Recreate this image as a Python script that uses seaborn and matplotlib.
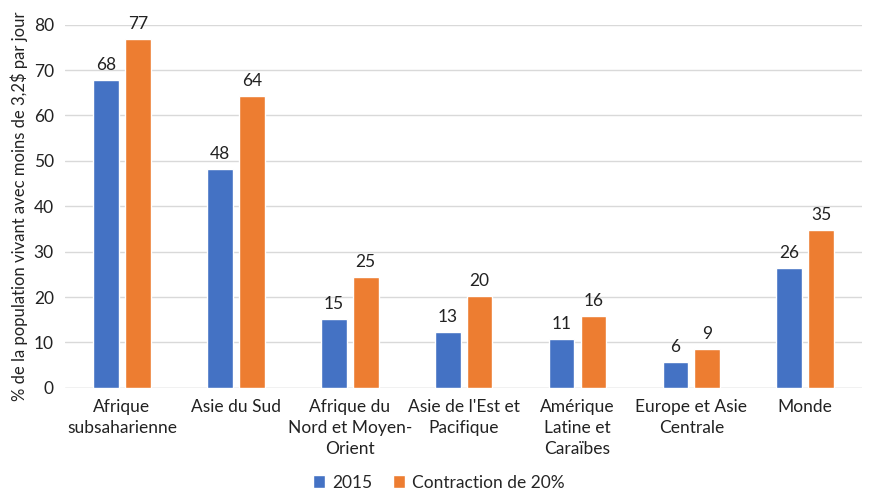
import seaborn as sns
import matplotlib.pyplot as plt
import pandas as pd

regions = ["Afrique\nsubsaharienne", "Asie du Sud", "Afrique du\nNord et Moyen-\nOrient",
           "Asie de l'Est et\nPacifique", "Amérique\nLatine et\nCaraïbes",
           "Europe et Asie\nCentrale", "Monde"]
val_2015 = [67.8, 48.3, 15.1, 12.4, 10.7, 5.7, 26.4]
val_contraction = [76.8, 64.4, 24.5, 20.3, 15.8, 8.5, 34.7]
lab_2015 = ["68", "48", "15", "13", "11", "6", "26"]
lab_contraction = ["77", "64", "25", "20", "16", "9", "35"]
series = ["2015", "Contraction de 20%"]

df = pd.DataFrame({
    "region": regions * 2,
    "serie": [series[0]] * len(regions) + [series[1]] * len(regions),
    "valeur": val_2015 + val_contraction,
})

sns.set_style("white")
plt.rcParams["font.family"] = ["Lato", "DejaVu Sans"]

fig, ax = plt.subplots(figsize=(8.78, 4.94), dpi=100)
sns.barplot(data=df, x="region", y="valeur", hue="serie", ax=ax,
            palette=["#4472C4", "#ED7D31"], width=0.56, gap=0.19,
            saturation=1, zorder=3)

for cont, labs in zip(ax.containers, [lab_2015, lab_contraction]):
    ax.bar_label(cont, labels=labs, padding=5, fontsize=12.5, color="#222222")

ax.set_ylim(0, 80)
ax.set_yticks(range(0, 81, 10))
ax.yaxis.grid(True, color="#d9d9d9", linewidth=1, zorder=0)
for s in ax.spines.values():
    s.set_visible(False)
ax.axhline(0, color="#d9d9d9", linewidth=1, zorder=2)
ax.tick_params(axis="both", length=0, labelsize=12.5, colors="#222222", pad=8)
for t in ax.get_xticklabels():
    t.set_linespacing(1.4)
ax.set_xlabel("")
ax.set_ylabel("% de la population vivant avec moins de 3,2$ par jour", fontsize=12,
              color="#222222")
ax.get_legend().remove()
handles, labels = ax.get_legend_handles_labels()
fig.legend(handles, labels, loc="lower center", bbox_to_anchor=(0.5, 0.0), ncol=2,
           frameon=False, fontsize=12.5, handlelength=0.7, handleheight=0.7,
           columnspacing=1.2, handletextpad=0.4, borderpad=0.1, borderaxespad=0.1)

plt.subplots_adjust(left=0.074, right=0.982, top=0.95, bottom=0.215)
plt.savefig("out.png", dpi=100)
